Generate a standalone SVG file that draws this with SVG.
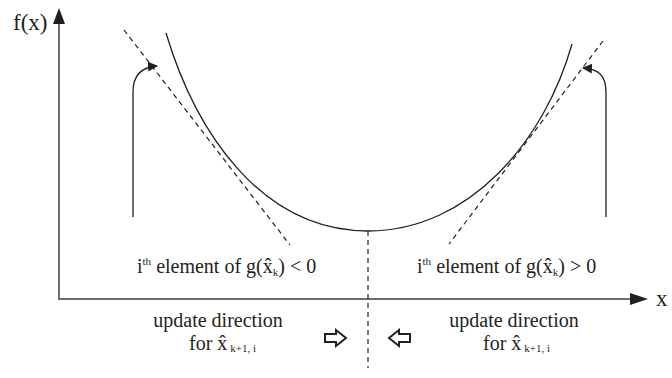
<svg xmlns="http://www.w3.org/2000/svg" width="672" height="378" viewBox="0 0 672 378">
<style>
.t{font-family:"Liberation Serif","Times New Roman",serif;font-size:20px;fill:#231f20}
.s{font-size:11px}
.big{font-size:23px}
.axis{stroke:#6d6e71;stroke-width:2;fill:none}
.curve{stroke:#231f20;stroke-width:1.3;fill:none}
.dash{stroke:#231f20;stroke-width:1.2;stroke-dasharray:5,4;fill:none}
.blk{fill:#fff;stroke:#231f20;stroke-width:2;stroke-linejoin:miter}
</style>
<defs>
<marker id="ah" viewBox="0 0 10 10" refX="9" refY="5" markerWidth="10" markerHeight="10" markerUnits="userSpaceOnUse" orient="auto">
<path d="M0,0 L10,5 L0,10 Z" fill="#231f20"/>
</marker>
</defs>
<g id="axes">
<line class="axis" x1="59" y1="300" x2="59" y2="20"/>
<path d="M59,8 L65,24 L53,24 Z" fill="#231f20"/>
<line class="axis" x1="58" y1="299" x2="632" y2="299"/>
<path d="M648,299 L630,293 L630,305 Z" fill="#231f20"/>
<text class="t big" x="13" y="30">f(x)</text>
<text class="t big" x="656" y="306">x</text>
</g>
<g id="curve">
<path class="curve" d="M166,33 C195,130 260,231 368,231 C470,231 545,140 572,44"/>
</g>
<g id="connectors">
<line class="dash" x1="124" y1="30" x2="290" y2="245"/>
<line class="dash" x1="603" y1="41" x2="449" y2="244"/>
<line class="dash" x1="368" y1="231" x2="368" y2="368"/>
<path class="curve" d="M133,217 V92 C133,74 142,67 157,66" marker-end="url(#ah)"/>
<path class="curve" d="M606,217 V92 C606,75 598,69 583,68" marker-end="url(#ah)"/>
</g>
<g id="left-label">
<text class="t" x="137" y="273">i<tspan class="s" dy="-8">th</tspan><tspan dy="8"> element of g(x̂</tspan><tspan class="s" dy="3">k</tspan><tspan dy="-3">) &lt; 0</tspan></text>
</g>
<g id="right-label">
<text class="t" x="417" y="273">i<tspan class="s" dy="-8">th</tspan><tspan dy="8"> element of g(x̂</tspan><tspan class="s" dy="3">k</tspan><tspan dy="-3">) &gt; 0</tspan></text>
</g>
<g id="left-update">
<text class="t" x="218" y="327" text-anchor="middle">update direction</text>
<text class="t" x="189" y="350">for x̂<tspan class="s" dx="3" dy="2">k+1, i</tspan></text>
<path class="blk" d="M325,334 H336 V330 L346,338 L336,346 V342 H325 Z"/>
</g>
<g id="right-update">
<text class="t" x="514" y="327" text-anchor="middle">update direction</text>
<text class="t" x="483" y="350">for x̂<tspan class="s" dx="3" dy="2">k+1, i</tspan></text>
<path class="blk" d="M410,334 H399 V330 L389,338 L399,346 V342 H410 Z"/>
</g>
</svg>
